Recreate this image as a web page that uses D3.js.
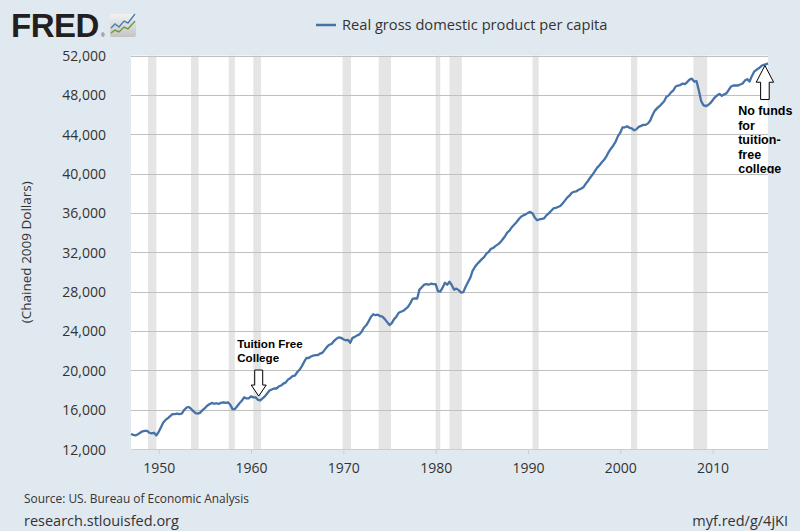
<!DOCTYPE html>
<html>
<head>
<meta charset="utf-8">
<script src="https://cdn.jsdelivr.net/npm/d3@7/dist/d3.min.js"></script>
<style>
html,body{margin:0;padding:0;background:#e1e9f0;}
svg{display:block;}
</style>
</head>
<body>
<svg id="chart" width="800" height="531"></svg>
<script>
// ---------------- DATA ----------------
const seriesName = "Real gross domestic product per capita";
const yAxisTitle = "(Chained 2009 Dollars)";
const firstYear = 1947; // quarterly observations starting 1947 Q1
const gdpPerCapita = [
  // 1947
  13520, 13430, 13380, 13500,
  // 1948
  13650, 13800, 13850, 13850,
  // 1949
  13650, 13580, 13650, 13380,
  // 1950
  13750, 14200, 14700, 14950,
  // 1951
  15150, 15350, 15550, 15550,
  // 1952
  15600, 15550, 15600, 15950,
  // 1953
  16200, 16270, 16100, 15850,
  // 1954
  15650, 15600, 15700, 15950,
  // 1955
  16150, 16400, 16550, 16680,
  // 1956
  16600, 16650, 16580, 16700,
  // 1957
  16750, 16700, 16750, 16500,
  // 1958
  16050, 16050, 16350, 16650,
  // 1959
  16900, 17250, 17150, 17150,
  // 1960
  17350, 17250, 17250, 17000,
  // 1961
  16950, 17150, 17350, 17650,
  // 1962
  17950, 18050, 18150, 18150,
  // 1963
  18350, 18450, 18650, 18750,
  // 1964
  19050, 19200, 19400, 19450,
  // 1965
  19800, 20050, 20400, 20850,
  // 1966
  21250, 21250, 21400, 21500,
  // 1967
  21550, 21550, 21700, 21800,
  // 1968
  22100, 22400, 22600, 22700,
  // 1969
  23000, 23200, 23350, 23300,
  // 1970
  23150, 23050, 23100, 22800,
  // 1971
  23300, 23400, 23550, 23650,
  // 1972
  23950, 24350, 24600, 25000,
  // 1973
  25450, 25700, 25600, 25650,
  // 1974
  25500, 25450, 25200, 24900,
  // 1975
  24600, 24800, 25200, 25450,
  // 1976
  25850, 25950, 26050, 26250,
  // 1977
  26450, 26800, 27250, 27300,
  // 1978
  27300, 28200, 28450, 28700,
  // 1979
  28750, 28700, 28800, 28750,
  // 1980
  28750, 28050, 28000, 28400,
  // 1981
  28900, 28700, 29000, 28650,
  // 1982
  28200, 28300, 28150, 27900,
  // 1983
  27950, 28500, 28950, 29400,
  // 1984
  30100, 30500, 30800, 31050,
  // 1985
  31300, 31500, 31850, 32050,
  // 1986
  32350, 32450, 32650, 32800,
  // 1987
  33000, 33300, 33600, 34000,
  // 1988
  34200, 34550, 34800, 35050,
  // 1989
  35350, 35600, 35750, 35850,
  // 1990
  36000, 36100, 35950, 35500,
  // 1991
  35250, 35350, 35400, 35450,
  // 1992
  35750, 35950, 36200, 36450,
  // 1993
  36500, 36600, 36700, 36950,
  // 1994
  37250, 37550, 37750, 38050,
  // 1995
  38150, 38200, 38350, 38450,
  // 1996
  38600, 38950, 39250, 39600,
  // 1997
  39900, 40250, 40600, 40850,
  // 1998
  41150, 41400, 41750, 42200,
  // 1999
  42550, 42850, 43250, 43800,
  // 2000
  44150, 44700, 44700, 44800,
  // 2001
  44650, 44600, 44400, 44500,
  // 2002
  44750, 44850, 44950, 44950,
  // 2003
  45100, 45400, 45950, 46400,
  // 2004
  46650, 46850, 47100, 47350,
  // 2005
  47800, 47950, 48250, 48450,
  // 2006
  48850, 48950, 49000, 49150,
  // 2007
  49100, 49300, 49550, 49650,
  // 2008
  49350, 49400, 48500, 47400,
  // 2009
  46950, 46850, 46950, 47150,
  // 2010
  47450, 47750, 47950, 48100,
  // 2011
  47900, 48050, 48150, 48500,
  // 2012
  48850, 48950, 48950, 48950,
  // 2013
  49050, 49150, 49450, 49600,
  // 2014
  49350, 49900, 50350, 50550,
  // 2015
  50700, 50900, 51050, 51100,
  // 2016
  51200
];
const recessions = [
  ["1948-11-01","1949-10-01"],
  ["1953-07-01","1954-05-01"],
  ["1957-08-01","1958-04-01"],
  ["1960-04-01","1961-02-01"],
  ["1969-12-01","1970-11-01"],
  ["1973-11-01","1975-03-01"],
  ["1980-01-01","1980-07-01"],
  ["1981-07-01","1982-11-01"],
  ["1990-07-01","1991-03-01"],
  ["2001-03-01","2001-11-01"],
  ["2007-12-01","2009-06-01"]
];
const yTicks = [12000,16000,20000,24000,28000,32000,36000,40000,44000,48000,52000];
const xTickYears = [1950,1960,1970,1980,1990,2000,2010];
const annotations = [
  {date:"1960-11-01", value:17380, dir:"down", lines:["Tuition Free","College"]},
  {date:"2015-09-01", value:50980, dir:"up", lines:["No funds","for","tuition-","free","college"]}
];
const sourceText = "Source: US. Bureau of Economic Analysis";
const siteText = "research.stlouisfed.org";
const shortUrl = "myf.red/g/4jKI";

// ---------------- CHART ----------------
const svg = d3.select("#chart");
const W = 800, H = 531;
const plot = {left:131, right:768, top:55.5, bottom:449};
const parse = d3.timeParse("%Y-%m-%d");

const data = gdpPerCapita.map((v,i)=>({
  date: new Date(firstYear + Math.floor(i/4), (i%4)*3, 1),
  value: v
}));

const x = d3.scaleTime()
  .domain([new Date(1947,0,1), new Date(2016,0,1)])
  .range([plot.left, plot.right]);
const y = d3.scaleLinear()
  .domain([12000, 52000])
  .range([plot.bottom, plot.top]);

const labelFont = "'Open Sans', 'DejaVu Sans', sans-serif";

svg.append("rect").attr("width",W).attr("height",H).attr("fill","#e1e9f0");
svg.append("rect")
  .attr("x",plot.left).attr("y",plot.top)
  .attr("width",plot.right-plot.left).attr("height",plot.bottom-plot.top)
  .attr("fill","#ffffff");

// recession shading
svg.append("g").selectAll("rect").data(recessions).join("rect")
  .attr("x",d=>x(parse(d[0])))
  .attr("width",d=>x(parse(d[1]))-x(parse(d[0])))
  .attr("y",plot.top).attr("height",plot.bottom-plot.top)
  .attr("fill","#e5e5e5");

// gridlines
svg.append("g").selectAll("line").data(yTicks.filter(t=>t>12000)).join("line")
  .attr("x1",plot.left).attr("x2",plot.right)
  .attr("y1",d=>Math.round(y(d))+0.5).attr("y2",d=>Math.round(y(d))+0.5)
  .attr("stroke","#c0c0c0").attr("stroke-width",1);

// y axis labels
const yAxis = d3.axisLeft(y).tickValues(yTicks).tickFormat(d3.format(",")).tickSize(0).tickPadding(0);
const yg = svg.append("g").attr("transform",`translate(${plot.left-25},0)`).call(yAxis);
yg.select(".domain").remove();
yg.selectAll("text").attr("font-family",labelFont).attr("font-size","14px").attr("fill","#333").attr("dy","0.36em");

// x axis
const xAxis = d3.axisBottom(x)
  .tickValues(xTickYears.map(yr=>new Date(yr,0,1)))
  .tickFormat(d3.timeFormat("%Y"))
  .tickSize(5).tickSizeOuter(0).tickPadding(9);
const xg = svg.append("g").attr("transform",`translate(0,${plot.bottom})`).call(xAxis);
xg.select(".domain").attr("stroke","#c0d0e0").attr("stroke-width",1.2);
xg.selectAll(".tick line").attr("stroke","#c0d0e0");
xg.selectAll("text").attr("font-family",labelFont).attr("font-size","14px").attr("fill","#333");

// y axis title
svg.append("text")
  .attr("transform",`translate(31,${(plot.top+plot.bottom)/2}) rotate(-90)`)
  .attr("text-anchor","middle")
  .attr("font-family",labelFont).attr("font-size","13.5px").attr("fill","#333")
  .text(yAxisTitle);

// line
const line = d3.line().x(d=>x(d.date)).y(d=>y(d.value));
svg.append("path").datum(data)
  .attr("d",line)
  .attr("fill","none").attr("stroke","#4572a7").attr("stroke-width",2.3)
  .attr("stroke-linejoin","round");

// legend
svg.append("line").attr("x1",316).attr("x2",336).attr("y1",25).attr("y2",25)
  .attr("stroke","#4572a7").attr("stroke-width",2.5);
svg.append("text").attr("x",342).attr("y",30)
  .attr("font-family",labelFont).attr("font-size","14.65px").attr("fill","#333")
  .text(seriesName);

// annotations
const annFont = "'Liberation Sans', Arial, sans-serif";
svg.append("defs").append("clipPath").attr("id","annclip")
  .append("rect").attr("x",0).attr("y",0).attr("width",W).attr("height",173.5);

annotations.forEach(a=>{
  const tx = x(parse(a.date)), ty = y(a.value);
  if(a.dir==="down"){
    const hw=7.5, sw=4, hh=11, sl=26;
    const p = `M${tx},${ty} L${tx-hw},${ty-hh} L${tx-sw},${ty-hh} L${tx-sw},${ty-sl} L${tx+sw},${ty-sl} L${tx+sw},${ty-hh} L${tx+hw},${ty-hh} Z`;
    svg.append("path").attr("d",p).attr("fill","#fff").attr("stroke","#000").attr("stroke-width",1);
    const t = svg.append("text").attr("font-family",annFont).attr("font-weight","bold")
      .attr("font-size","11.6px").attr("fill","#000");
    a.lines.forEach((s,i)=>t.append("tspan").attr("x",tx-21.5).attr("y",ty-48+i*14).text(s));
  } else {
    const hw=8.7, sw=4.3, hh=16.7, sl=34;
    const p = `M${tx},${ty} L${tx-hw},${ty+hh} L${tx-sw},${ty+hh} L${tx-sw},${ty+sl} L${tx+sw},${ty+sl} L${tx+sw},${ty+hh} L${tx+hw},${ty+hh} Z`;
    svg.append("path").attr("d",p).attr("fill","#fff").attr("stroke","#000").attr("stroke-width",1);
    const t = svg.append("text").attr("font-family",annFont).attr("font-weight","bold")
      .attr("font-size","12.5px").attr("fill","#000").attr("clip-path","url(#annclip)");
    a.lines.forEach((s,i)=>t.append("tspan").attr("x",tx-26.7).attr("y",ty+49.5+i*14.6).text(s));
  }
});

// FRED logo
svg.append("text").attr("x",11).attr("y",36.5)
  .attr("font-family","'Liberation Sans', Arial, sans-serif").attr("font-weight","bold")
  .attr("font-size","33px").attr("fill","#231f20").attr("letter-spacing","-0.5")
  .text("FRED");
svg.append("text").attr("x",101).attr("y",37).attr("font-family","'Liberation Sans', Arial, sans-serif")
  .attr("font-size","5px").attr("fill","#231f20").text("®");
const grad = svg.select("defs").append("linearGradient").attr("id","icongrad")
  .attr("x1",0).attr("y1",0).attr("x2",0).attr("y2",1);
grad.append("stop").attr("offset","0%").attr("stop-color","#f2f2f2");
grad.append("stop").attr("offset","100%").attr("stop-color","#c4c4c4");
svg.append("rect").attr("x",110).attr("y",14).attr("width",26).attr("height",23).attr("rx",2)
  .attr("fill","url(#icongrad)");
svg.append("polyline").attr("points","111,28 115,24 119,27 124,21 128,23 135,14")
  .attr("fill","none").attr("stroke","#4a7fb5").attr("stroke-width",1.4);
svg.append("polyline").attr("points","111,33 115,30 119,32 124,27 128,29 135,21")
  .attr("fill","none").attr("stroke","#6a9a3a").attr("stroke-width",1.4);

// footer
svg.append("text").attr("x",24).attr("y",502.5)
  .attr("font-family",labelFont).attr("font-size","11.9px").attr("fill","#333").text(sourceText);
svg.append("text").attr("x",24).attr("y",525.5)
  .attr("font-family",labelFont).attr("font-size","14.5px").attr("fill","#333").text(siteText);
svg.append("text").attr("x",788).attr("y",525.5).attr("text-anchor","end")
  .attr("font-family",labelFont).attr("font-size","14.5px").attr("fill","#333").text(shortUrl);
</script>
</body>
</html>
